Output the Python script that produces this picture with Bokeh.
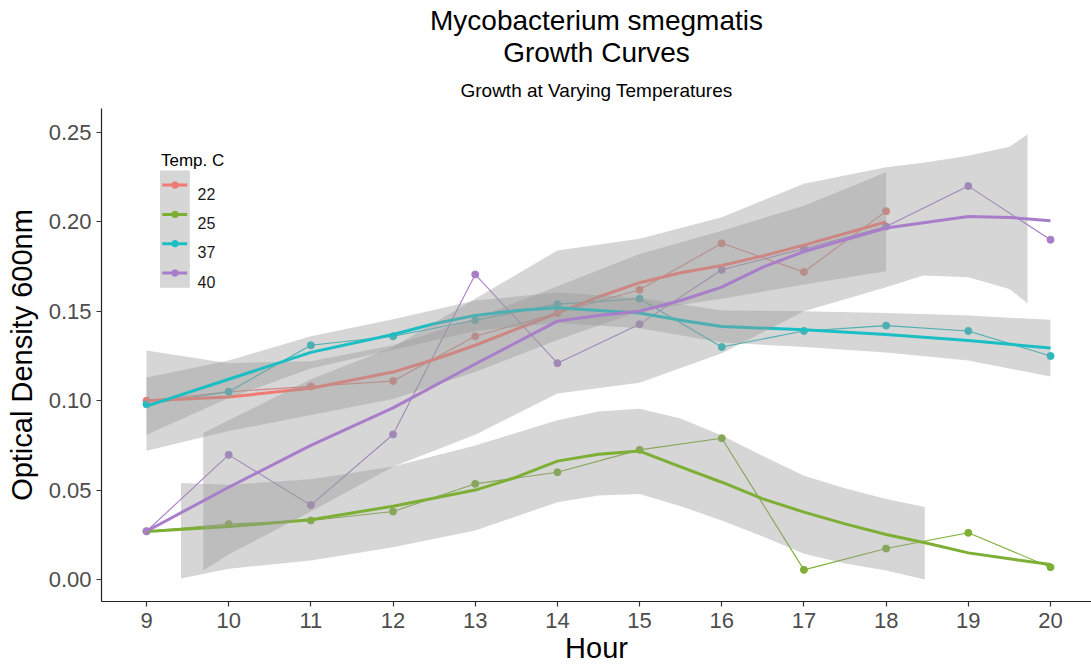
import math
from bokeh.plotting import figure
from bokeh.models import Range1d, FixedTicker, NumeralTickFormatter, Label, Title
from bokeh.embed import file_html
from bokeh.resources import INLINE

# ---------------- data ----------------
series_names = ["22", "25", "37", "40"]
series_colors = ["#F07B72", "#7DAF35", "#1BBEC3", "#A87DCA"]

hours_22 = [9, 10, 11, 12, 13, 14, 15, 16, 17, 18]
hours_all = [9, 10, 11, 12, 13, 14, 15, 16, 17, 18, 19, 20]

od_22 = [0.100, 0.105, 0.108, 0.111, 0.136, 0.149, 0.162, 0.188, 0.172, 0.206]
od_25 = [0.027, 0.031, 0.033, 0.038, 0.0535, 0.060, 0.0725, 0.079, 0.0054, 0.0173, 0.0261, 0.0069]
od_37 = [0.098, 0.105, 0.131, 0.136, 0.145, 0.154, 0.157, 0.130, 0.139, 0.142, 0.139, 0.125]
od_40 = [0.027, 0.0697, 0.0416, 0.0811, 0.1706, 0.121, 0.1428, 0.1732, 0.185, 0.1974, 0.220, 0.190]

# loess smooth curves
smooth_x_22 = [9, 10, 11, 12, 12.5, 13, 13.5, 14, 14.5, 15, 15.5, 16, 16.5, 17, 17.5, 18]
smooth_y_22 = [0.100, 0.102, 0.107, 0.116, 0.123, 0.131, 0.140, 0.149, 0.158, 0.166, 0.1715, 0.1756, 0.181, 0.187, 0.1935, 0.200]

smooth_x_25 = [9, 10, 11, 12, 13, 13.5, 14, 14.5, 15, 15.5, 16, 16.5, 17, 17.5, 18, 18.5, 19, 19.5, 20]
smooth_y_25 = [0.0268, 0.0296, 0.0334, 0.041, 0.050, 0.0572, 0.0662, 0.070, 0.0718, 0.063, 0.0544, 0.0451, 0.0377, 0.0311, 0.0252, 0.0203, 0.0149, 0.0116, 0.0084]

smooth_x_37 = [9, 10, 11, 12, 12.5, 13, 13.5, 14, 14.5, 15, 15.5, 16, 17, 18, 19, 20]
smooth_y_37 = [0.097, 0.112, 0.127, 0.137, 0.143, 0.1477, 0.1505, 0.152, 0.1505, 0.149, 0.145, 0.1415, 0.1397, 0.137, 0.1337, 0.1294]

smooth_x_40 = [9, 10, 11, 12, 13, 14, 14.5, 15, 15.5, 16, 16.5, 17, 18, 19, 19.5, 20]
smooth_y_40 = [0.027, 0.0516, 0.075, 0.096, 0.1205, 0.1445, 0.1477, 0.150, 0.156, 0.1635, 0.1747, 0.1834, 0.1966, 0.203, 0.2025, 0.2006]

# confidence ribbons
ribbon_x_22 = [9, 10, 11, 12, 13, 14, 15, 16, 17, 18]
ribbon_lo_22 = [0.072, 0.083, 0.092, 0.101, 0.116, 0.134, 0.150, 0.157, 0.165, 0.1724]
ribbon_hi_22 = [0.128, 0.121, 0.122, 0.131, 0.146, 0.164, 0.182, 0.195, 0.209, 0.2278]

ribbon_x_25 = [9.42, 10, 11, 12, 13, 14, 14.5, 15, 15.5, 16, 16.5, 17, 17.5, 18, 18.47]
ribbon_lo_25 = [0.0006, 0.006, 0.0106, 0.018, 0.0274, 0.0432, 0.047, 0.0478, 0.041, 0.033, 0.024, 0.0144, 0.009, 0.005, 0.000]
ribbon_hi_25 = [0.054, 0.053, 0.056, 0.0632, 0.075, 0.089, 0.094, 0.0955, 0.090, 0.0805, 0.069, 0.058, 0.051, 0.045, 0.0405]

ribbon_x_37 = [9, 10, 11, 12, 13, 14, 15, 16, 17, 18, 19, 20]
ribbon_lo_37 = [0.081, 0.1015, 0.118, 0.1285, 0.139, 0.1435, 0.1405, 0.1325, 0.130, 0.127, 0.1225, 0.1135]
ribbon_hi_37 = [0.113, 0.1225, 0.136, 0.1455, 0.156, 0.1605, 0.1575, 0.1505, 0.150, 0.149, 0.1476, 0.1452]

ribbon_x_40 = [9.69, 10, 11, 12, 13, 14, 15, 16, 17, 18, 18.45, 19, 19.5, 19.72]
ribbon_lo_40 = [0.005, 0.014, 0.038, 0.063, 0.081, 0.104, 0.110, 0.1265, 0.150, 0.1635, 0.170, 0.169, 0.1625, 0.1545]
ribbon_hi_40 = [0.082, 0.089, 0.112, 0.130, 0.157, 0.184, 0.1905, 0.2026, 0.2213, 0.2306, 0.233, 0.237, 0.242, 0.2489]

x_ticks = [9, 10, 11, 12, 13, 14, 15, 16, 17, 18, 19, 20]
y_ticks = [0.00, 0.05, 0.10, 0.15, 0.20, 0.25]

title_line1 = "Mycobacterium smegmatis"
title_line2 = "Growth Curves"
subtitle = "Growth at Varying Temperatures"
x_label = "Hour"
y_label = "Optical Density 600nm"
legend_title = "Temp. C"

# ---------------- figure ----------------
FONT = "Liberation Sans"
X0, X1 = 8.4524, 20.499
Y0, Y1 = -0.0123, 0.2634

p = figure(width=1091, height=666, output_backend="svg", toolbar_location=None,
           x_range=Range1d(X0, X1), y_range=Range1d(Y0, Y1),
           min_border_left=101, min_border_right=0, min_border_top=108, min_border_bottom=65)
p.outline_line_color = None
p.background_fill_color = "white"
p.border_fill_color = "white"
p.xgrid.visible = False
p.ygrid.visible = False

# titles: p.title is outermost; later-added titles sit farther from the frame
p.title.text = title_line1
p.title.align = "center"
p.title.text_font = FONT
p.title.text_font_size = "28px"
p.title.text_font_style = "normal"
p.title.text_color = "#000000"
p.title.standoff = -7
p.add_layout(Title(text=subtitle, align="center", text_font=FONT, text_font_size="19px",
                   text_font_style="normal", text_color="#000000", standoff=16), "above")
p.add_layout(Title(text=title_line2, align="center", text_font=FONT, text_font_size="28px",
                   text_font_style="normal", text_color="#000000", standoff=4), "above")

for ax in (p.xaxis, p.yaxis):
    ax.axis_line_color = "#222222"
    ax.axis_line_width = 1.2
    ax.major_tick_line_color = "#333333"
    ax.major_tick_line_width = 1.2
    ax.major_tick_out = 5
    ax.major_tick_in = 0
    ax.minor_tick_out = 0
    ax.minor_tick_in = 0
    ax.major_label_text_font = FONT
    ax.major_label_text_font_size = "22px"
    ax.major_label_text_color = "#4D4D4D"
    ax.axis_label_text_font = FONT
    ax.axis_label_text_font_size = "29px"
    ax.axis_label_text_font_style = "normal"
    ax.axis_label_text_color = "#000000"
p.xaxis.ticker = FixedTicker(ticks=x_ticks)
p.yaxis.ticker = FixedTicker(ticks=y_ticks)
p.yaxis.formatter = NumeralTickFormatter(format="0.00")
p.xaxis.major_label_standoff = 6
p.yaxis.major_label_standoff = 5
p.xaxis.axis_label = x_label
p.yaxis.axis_label = y_label
p.xaxis.axis_label_standoff = 1
p.yaxis.axis_label_standoff = 8

# pixel helpers for legend layout (page pixels -> data)
def hx(px):
    return 9 + (px - 146) / 82.18

def vy(py):
    return (579 - py) / 1788.0

series = [
    (hours_22, od_22, smooth_x_22, smooth_y_22, ribbon_x_22, ribbon_lo_22, ribbon_hi_22),
    (hours_all, od_25, smooth_x_25, smooth_y_25, ribbon_x_25, ribbon_lo_25, ribbon_hi_25),
    (hours_all, od_37, smooth_x_37, smooth_y_37, ribbon_x_37, ribbon_lo_37, ribbon_hi_37),
    (hours_all, od_40, smooth_x_40, smooth_y_40, ribbon_x_40, ribbon_lo_40, ribbon_hi_40),
]

# raw lines + points
for (hrs, od, *_), col in zip(series, series_colors):
    p.line(hrs, od, line_color=col, line_width=1.1)
    p.scatter(hrs, od, size=7, fill_color=col, line_color=col)

# ribbon + smooth per group (ggplot order)
for (_, _, sx, sy, rx, rlo, rhi), col in zip(series, series_colors):
    p.varea(x=rx, y1=rlo, y2=rhi, fill_color="#999999", fill_alpha=0.4)
    p.line(sx, sy, line_color=col, line_width=3, line_join="round")

# ---------------- legend (drawn manually) ----------------
leg_left, leg_right = 159.5, 189.3
leg_top, pitch = 170.0, 29.3
n = len(series_names)
p.quad(left=[hx(leg_left)], right=[hx(leg_right)], top=[vy(leg_top)],
       bottom=[vy(leg_top + n * pitch)], fill_color="#999999", fill_alpha=0.4, line_color=None)
for i, (name, col) in enumerate(zip(series_names, series_colors)):
    cy = leg_top + (i + 0.5) * pitch
    p.line([hx(161.7), hx(186.7)], [vy(cy), vy(cy)], line_color=col, line_width=3)
    p.scatter([hx(174.5)], [vy(cy)], size=6.5, fill_color=col, line_color=col)
    p.add_layout(Label(x=hx(197), y=vy(cy + 8.5), text=name, text_font=FONT,
                       text_font_size="16px", text_color="#1a1a1a",
                       text_align="left", text_baseline="alphabetic"))
p.add_layout(Label(x=hx(160.5), y=vy(160.5), text=legend_title, text_font=FONT,
                   text_font_size="17px", text_color="#000000",
                   text_align="left", text_baseline="alphabetic"))

open("out.html", "w").write(file_html(p, INLINE))
